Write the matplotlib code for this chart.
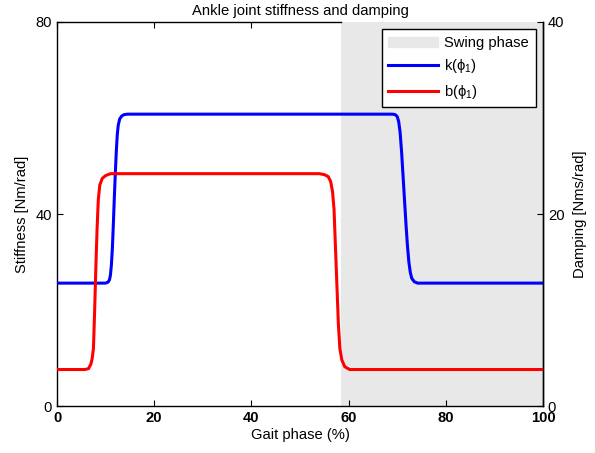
import matplotlib
matplotlib.use("Agg")
import matplotlib.pyplot as plt
from matplotlib.patches import Patch
from matplotlib.lines import Line2D

plt.rcParams['font.family'] = ['Liberation Sans', 'DejaVu Sans']
plt.rcParams['mathtext.fontset'] = 'custom'
plt.rcParams['mathtext.rm'] = 'Liberation Sans'
plt.rcParams['mathtext.it'] = 'Liberation Sans'

# ---- data ----
swing_start = 58.4
swing_end = 100

k_phase = [0, 10.0, 10.5, 10.8, 11.0, 11.2, 11.4, 11.6, 11.8, 12.0, 12.2, 12.4,
           12.6, 12.9, 13.3, 13.8, 14.5, 69.0, 69.6, 70.0, 70.3, 70.6, 70.9,
           71.2, 71.5, 71.8, 72.1, 72.4, 72.7, 73.0, 73.5, 74.2, 100]
k_vals = [25.6, 25.6, 25.8, 26.3, 27.3, 29.5, 33.0, 38.0, 43.5, 48.5, 53.0, 56.5,
          58.5, 59.8, 60.4, 60.7, 60.8, 60.8, 60.7, 60.3, 59.3, 57.0, 53.0,
          48.0, 43.0, 38.0, 33.5, 30.0, 27.8, 26.6, 25.9, 25.6, 25.6]

b_phase = [0, 5.8, 6.5, 7.0, 7.25, 7.5, 7.75, 8.0, 8.25, 8.5, 8.8, 9.3, 10.0,
           11.0, 54.0, 55.0, 55.8, 56.3, 56.7, 57.0, 57.3, 57.6, 57.9, 58.2,
           58.6, 59.2, 60.2, 100]
b_vals = [3.8, 3.8, 3.9, 4.4, 5.0, 6.0, 10.0, 14.5, 18.5, 21.5, 23.0, 23.7, 24.0,
          24.2, 24.2, 24.1, 23.9, 23.4, 22.3, 20.5, 16.5, 12.5, 8.5, 6.0,
          4.8, 4.1, 3.8, 3.8]

x_ticks = [0, 20, 40, 60, 80, 100]
k_ticks = [0, 40, 80]
b_ticks = [0, 20, 40]

FS = 10.6

# ---- figure ----
fig = plt.figure(figsize=(5.95, 4.53), dpi=100)
ax = fig.add_axes([57/595, 1-406/453, (543-57)/595, (406-22)/453])
shade_col = '#e8e8e8'
ax.axvspan(swing_start, swing_end, color=shade_col, lw=0, zorder=0.5)
ax.plot(k_phase, k_vals, color='#0000ff', lw=2.2, zorder=3, solid_capstyle='butt')
ax.set_xlim(0, 100)
ax.set_ylim(0, 80)
ax.set_xticks(x_ticks)
ax.set_yticks(k_ticks)
ax.tick_params(direction='in', length=4, width=0.8, labelsize=FS, top=True,
               right=False, colors='black')
for lbl in ax.get_xticklabels():
    lbl.set_fontweight('bold')
ax.spines['top'].set_bounds(0, swing_start)
for t in ax.xaxis.get_major_ticks():
    if t.get_loc() > swing_start:
        t.tick2line.set_visible(False)
for s in ax.spines.values():
    s.set_linewidth(1.0)
ax.set_xlabel('Gait phase (%)', fontsize=FS, labelpad=2)
ax.set_ylabel('Stiffness [Nm/rad]', fontsize=FS, labelpad=5)
ax.set_title('Ankle joint stiffness and damping', fontsize=FS, pad=5)

ax2 = ax.twinx()
ax2.plot(b_phase, b_vals, color='#ff0000', lw=2.2, zorder=3, solid_capstyle='butt')
ax2.set_ylim(0, 40)
ax2.set_yticks(b_ticks)
ax2.tick_params(direction='in', length=4, width=0.8, labelsize=FS, colors='black')
for name in ['top', 'left', 'bottom']:
    ax2.spines[name].set_visible(False)
ax2.spines['right'].set_linewidth(1.0)
ax2.set_ylabel('Damping [Nms/rad]', fontsize=FS, labelpad=6)

handles = [Patch(facecolor=shade_col, edgecolor=shade_col),
           Line2D([], [], color='#0000ff', lw=2.2),
           Line2D([], [], color='#ff0000', lw=2.2)]
labels = ['Swing phase', r'k($\mathregular{\phi_1}$)', r'b($\mathregular{\phi_1}$)']
leg = ax2.legend(handles, labels, loc='upper right', fontsize=FS, frameon=True,
                 fancybox=False, edgecolor='black', framealpha=1,
                 handlelength=3.4, handletextpad=0.4, borderaxespad=0.5,
                 labelspacing=0.5, borderpad=0.45)
leg.get_frame().set_linewidth(1.0)

fig.savefig('out.png', dpi=100)
